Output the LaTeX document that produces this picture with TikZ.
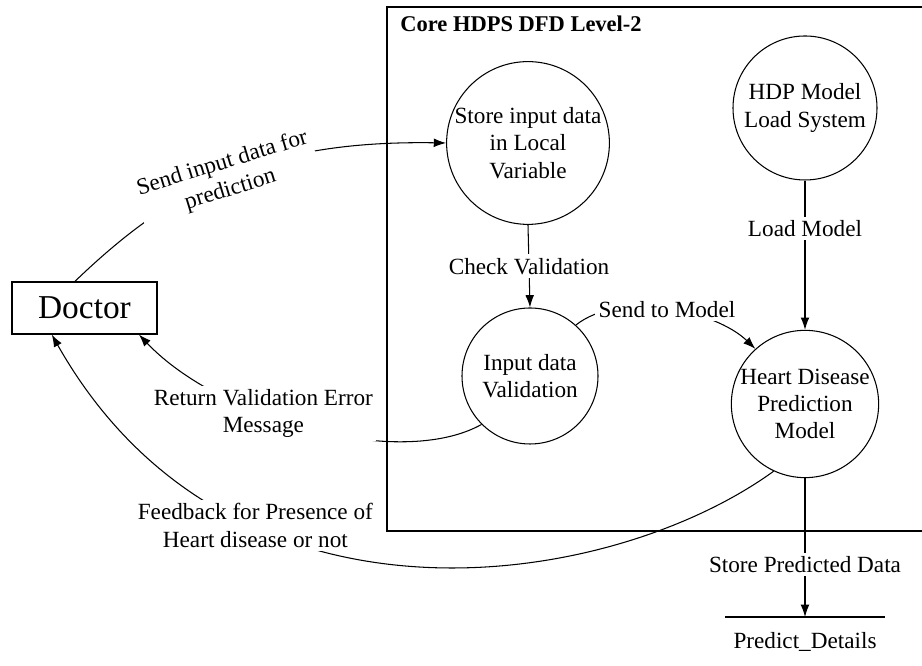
\documentclass[tikz,border=0pt]{standalone}
\usepackage{fontspec}
\setmainfont{Liberation Serif}
\usetikzlibrary{arrows.meta}

\begin{document}
\begin{tikzpicture}[
    font=\fontsize{13.2}{15.6}\selectfont,
    line width=0.6pt,
    process/.style={draw, circle, inner sep=0pt, align=center},
    flow/.style={-{Latex[length=7pt,width=5pt]}},
    lbl/.style={fill=white, inner sep=2pt, align=center}
  ]
    \useasboundingbox (0, 0) rectangle (18.44, 13.32);
    % system boundary, cut off on the right
    \draw (18.44, 13.18) -| (7.74, 2.70) -- (18.44, 2.70);
    \node[anchor=west, font=\fontsize{12.8}{15.4}\selectfont\bfseries] (title) at (7.88, 12.84) {Core HDPS DFD Level-2};

    \node[draw, minimum width=2.9cm, minimum height=1.04cm, inner sep=0pt,
          font=\fontsize{19}{22}\selectfont] (doctor) at (1.69, 7.16) {Doctor};

    \node[process, minimum size=3.2cm] (store) at (10.56, 10.46) {Store input data\\in Local\\Variable};
    \node[process, minimum size=2.88cm] (hdp) at (16.10, 11.16) {HDP Model\\Load System};
    \node[process, minimum size=2.72cm] (inval) at (10.60, 5.80) {Input data\\Validation};
    \node[process, minimum size=2.88cm] (heart) at (16.10, 5.24) {Heart Disease\\Prediction\\Model};

    % data store
    \coordinate (dsl) at (14.5, 0.98);
    \coordinate (dsr) at (17.7, 0.98);
    \coordinate (ds) at (16.10, 0.98);
    \draw (dsl) -- (dsr);
    \node (details) at (16.10, 0.48) {Predict\_Details};

    \draw[flow] (doctor.110) .. controls (3.4, 9.52) and (5.2, 10.52) .. (store.west)
         node[lbl, pos=0.5, rotate=17] {Send input data for\\prediction};
    \draw[flow] (store.south) -- node[lbl] {Check Validation} (inval.north);
    \draw[flow] (inval.48) .. controls (12.4, 7.52) and (14.3, 7.12) .. (heart.132)
         node[lbl, pos=0.5] {Send to Model};
    \draw[flow] (hdp.south) -- node[lbl, pos=0.32] {Load Model} (heart.north);
    \draw[flow] (heart.south) -- node[lbl, pos=0.62] {Store Predicted Data} (ds);
    \draw[flow] (inval.225) .. controls (8.0, 3.92) and (4.4, 4.92) .. (doctor.-26)
         node[lbl, pos=0.62] {Return Validation Error\\Message};
    \draw[flow] (heart.245) .. controls (12.2, 1.52) and (4.6, 0.32) .. (doctor.219)
         node[lbl, pos=0.7] {Feedback for Presence of\\Heart disease or not};
  \end{tikzpicture}
\end{document}
